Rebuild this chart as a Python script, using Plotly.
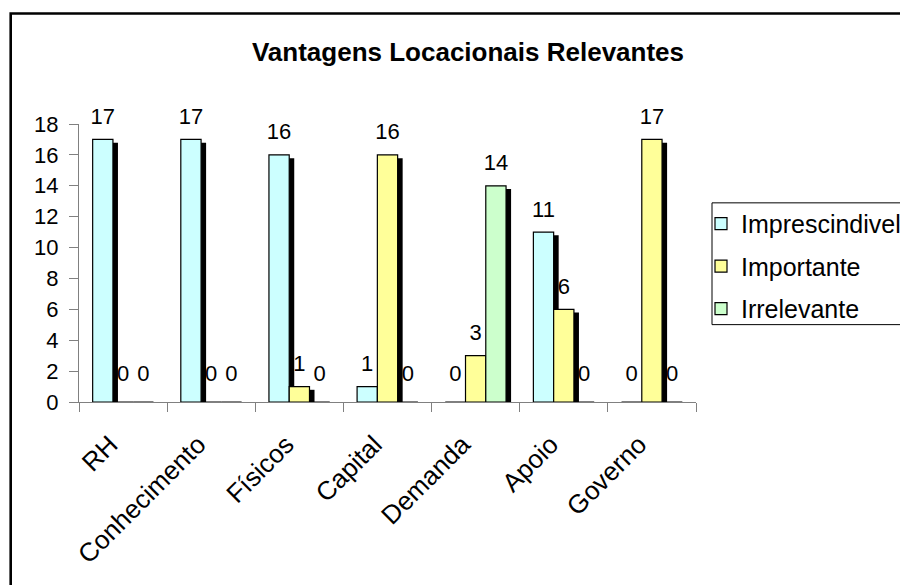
import plotly.graph_objects as go

categories = ["RH", "Conhecimento", "Físicos", "Capital", "Demanda", "Apoio", "Governo"]
imprescindivel = [17, 17, 16, 1, 0, 11, 0]
importante = [0, 0, 1, 16, 3, 6, 17]
irrelevante = [0, 0, 0, 0, 14, 0, 0]

series_names = ["Imprescindivel", "Importante", "Irrelevante"]
series_values = [imprescindivel, importante, irrelevante]
series_colors = ["#CCFFFF", "#FFFF99", "#CCFFCC"]

FONT = "Arial, Liberation Sans, sans-serif"
BAR_W = 0.23
OFFSETS = [-0.345, -0.115, 0.115]
SH_DX = 0.057      # shadow shift right (category units)
SH_DY = 0.21       # shadow shift down (value units)
LABEL_LIFT = 0.48  # extra lift for data labels (value units)
ZERO_LIFT = 0.85   # lift for labels of empty bars

# page has an 8px body margin: figure is drawn 8px in from the window corner
PAD = 8
FIG_W, FIG_H = 908 - PAD, 585 - PAD
# plot area geometry in window px
L, R, T, B = 79, 696, 124, 402.5
W, H = R - L, B - T
def px_x(p): return (p - L) / W
def px_y(p): return (B - p) / H

fig = go.Figure()

# shadows
for vals, off in zip(series_values, OFFSETS):
    fig.add_trace(go.Bar(
        x=categories, y=[max(v - SH_DY, 0) for v in vals],
        offset=off + SH_DX, width=BAR_W,
        marker=dict(color="black", line=dict(width=0)),
        showlegend=False, hoverinfo="skip"))

# bars
for name, vals, off, col in zip(series_names, series_values, OFFSETS, series_colors):
    fig.add_trace(go.Bar(
        x=categories, y=vals, name=name, legendgroup=name,
        offset=off, width=BAR_W,
        marker=dict(color=col, line=dict(color="black", width=1.2))))

# data labels
for name, vals, off in zip(series_names, series_values, OFFSETS):
    fig.add_trace(go.Bar(
        x=categories, y=vals,
        base=[ZERO_LIFT if v == 0 else LABEL_LIFT for v in vals],
        offset=off, width=BAR_W,
        text=[str(v) for v in vals], textposition="outside",
        constraintext="none", cliponaxis=False,
        textfont=dict(family=FONT, size=22, color="black"),
        marker=dict(color="rgba(0,0,0,0)", line=dict(width=0)),
        showlegend=False, hoverinfo="skip"))

fig.update_layout(
    width=FIG_W, height=FIG_H,
    margin=dict(l=L - PAD, r=908 - R, t=T - PAD, b=585 - B, autoexpand=False),
    barmode="overlay",
    paper_bgcolor="white", plot_bgcolor="white",
    font=dict(family=FONT, color="black"),
    title=dict(text="<b>Vantagens Locacionais Relevantes</b>",
               font=dict(family=FONT, size=26, color="black"),
               x=(468 - PAD) / FIG_W, xanchor="center", xref="container",
               y=1 - (52 - PAD) / FIG_H, yanchor="middle", yref="container"),
    legend=dict(x=px_x(701), xanchor="left", y=px_y(201), yanchor="top",
                bgcolor="rgba(0,0,0,0)", borderwidth=0,
                font=dict(family=FONT, size=25, color="black"),
                traceorder="grouped", tracegroupgap=7, itemwidth=30),
    showlegend=True,
)

fig.update_xaxes(type="category", tickson="boundaries", ticks="outside", ticklen=9,
                 tickcolor="#808080", showline=True, linecolor="#808080", linewidth=1,
                 showgrid=False, tickangle=-45,
                 ticklabelshift=-13, ticklabelstandoff=16,
                 tickfont=dict(family=FONT, size=26, color="black"),
                 range=[-0.5, 6.5])
fig.update_yaxes(range=[0, 18], dtick=2, ticks="outside", ticklen=9,
                 tickcolor="#808080", showline=True, linecolor="#808080", linewidth=1,
                 showgrid=False, zeroline=False, ticklabelstandoff=6,
                 tickfont=dict(family=FONT, size=22, color="black"))

# chart border
fig.add_shape(type="rect", xref="paper", yref="paper",
              x0=px_x(10.7), x1=px_x(960), y0=px_y(640), y1=px_y(13.3),
              line=dict(color="black", width=2.6), fillcolor="rgba(0,0,0,0)", layer="below")
# legend box
fig.add_shape(type="rect", xref="paper", yref="paper",
              x0=px_x(712), x1=px_x(960), y0=px_y(325), y1=px_y(203),
              line=dict(color="black", width=1), fillcolor="rgba(0,0,0,0)", layer="below")

fig.write_html("out.html")
